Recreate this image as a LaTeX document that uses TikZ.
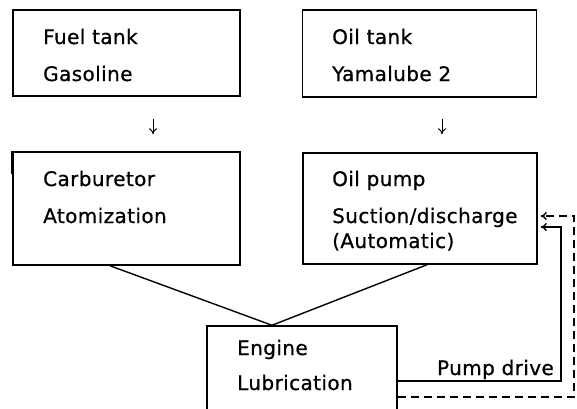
\documentclass[tikz,border=0pt]{standalone}
\usepackage{fontspec}
\setmainfont{DejaVu Sans}[LetterSpace=2,FakeBold=0.7]
\usetikzlibrary{arrows.meta,calc}
\tikzset{
  box/.style={draw, line width=1.5pt, rectangle, inner sep=0pt},
  lbl/.style={anchor=base west, inner sep=0pt, font=\fontsize{20}{24}\selectfont},
  lblr/.style={anchor=base east, inner sep=0pt, font=\fontsize{20}{24}\selectfont},
  flow/.style={line width=1pt, -{To[length=6pt,width=8pt]}},
  conn/.style={line width=1.4pt},
  feed/.style={line width=1.4pt, -{To[length=6pt,width=8pt]}},
  feeddash/.style={feed, dash pattern=on 8pt off 5pt}
}
\begin{document}
\begin{tikzpicture}[x=1pt,y=-1pt]
\useasboundingbox (0,0) rectangle (577,408);
\clip (0,0) rectangle (577,408);
% boxes
\node[box, minimum width=227pt, minimum height=86pt] (fuel) at (126.5,53) {};
\node[box, minimum width=234pt, minimum height=87pt] (oil) at (419.5,53.5) {};
\node[box, minimum width=227pt, minimum height=113pt] (carb) at (126.5,208.5) {};
\node[box, minimum width=234pt, minimum height=111pt] (pump) at (420,208.5) {};
\node[box, minimum width=190pt, minimum height=100pt] (eng) at (302,376) {};
% scan mark on carburetor box
\draw[line width=2.6pt] (carb.north west) -- ++(0,23);
% texts
\node[lbl] (t1) at (43,44) {Fuel tank};
\node[lbl] (t2) at (43,81) {Gasoline};
\node[lbl] (t3) at (332,44) {Oil tank};
\node[lbl] (t4) at (332,81) {Yamalube 2};
\node[lbl] (t5) at (43,186) {Carburetor};
\node[lbl] (t6) at (43,223) {Atomization};
\node[lbl] (t7) at (332,186) {Oil pump};
\node[lbl] (t8) at (332,223) {Suction/discharge};
\node[lbl] (t9) at (332,248) {(Automatic)};
\node[lbl] (t10) at (237,355) {Engine};
\node[lbl] (t11) at (237,390) {Lubrication};
\node[lblr] (t12) at (554,375) {Pump drive};
% down arrows
\coordinate (a1) at (153,0);
\coordinate (a2) at (442,0);
\draw[flow, shorten <=22pt, shorten >=17pt] (a1 |- fuel.south) -- (a1 |- carb.north);
\draw[flow, shorten <=21pt, shorten >=18pt] (a2 |- oil.south) -- (a2 |- pump.north);
% converging lines
\coordinate (apex) at (272,326);
\coordinate (c1) at (110,0);
\coordinate (c2) at (427,0);
\draw[conn] (c1 |- carb.south) -- (apex |- eng.north);
\draw[conn] (c2 |- pump.south) -- (apex |- eng.north);
% pump drive feedback
\coordinate (v1) at (561,381);
\coordinate (v2) at (574,397);
\coordinate (h1) at (0,227);
\coordinate (h2) at (0,216);
\draw[feed, shorten >=3pt] (eng.east |- v1) -- (v1) -- (v1 |- h1) -- (pump.east |- h1);
\draw[feeddash, shorten >=3pt] (eng.east |- v2) -- (v2) -- (v2 |- h2) -- (pump.east |- h2);
\end{tikzpicture}
\end{document}
